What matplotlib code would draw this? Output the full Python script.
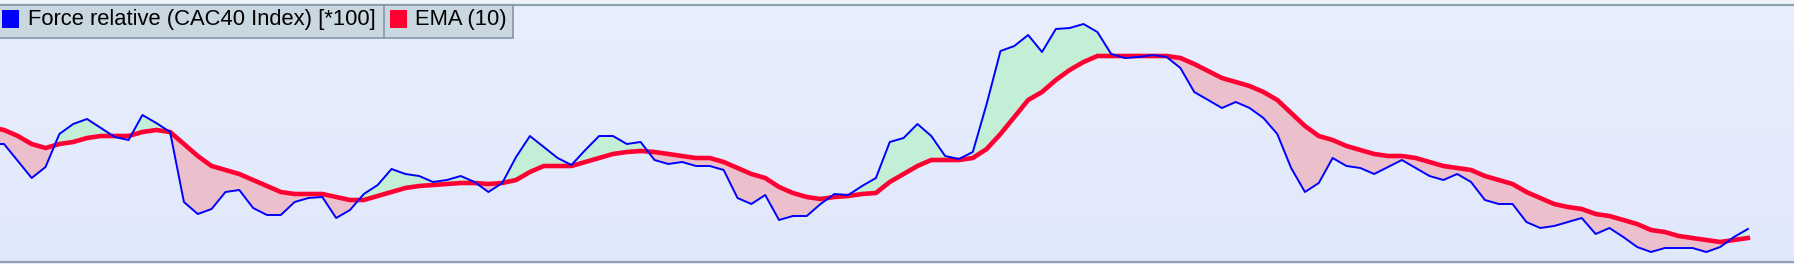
import numpy as np
import matplotlib.pyplot as plt
from matplotlib.patches import Rectangle

# Force relative (CAC40 Index) [*100], une valeur par séance (la première est hors cadre)
force_rel = [118, 118, 101, 84, 95, 128, 138, 143, 134, 125, 122, 147, 139, 130, 60, 48,
             53, 70, 72, 54, 47, 47, 60, 64, 65, 44, 52, 68, 77, 93, 88, 86,
             80, 82, 86, 80, 70, 79, 105, 126, 115, 104, 97, 112, 126, 126, 118, 120,
             102, 98, 100, 96, 96, 92, 64, 58, 67, 42, 46, 46, 58, 68, 67, 76,
             84, 120, 124, 138, 126, 106, 103, 110, 158, 211, 216, 227, 210, 233, 234, 238,
             230, 208, 204, 205, 207, 205, 194, 170, 162, 154, 160, 154, 144, 128, 94, 70,
             79, 104, 96, 94, 88, 95, 102, 94, 86, 82, 88, 80, 62, 58, 58, 40,
             34, 36, 40, 44, 28, 34, 25, 15, 10, 14, 14, 14, 10, 15, 25, 33]

# EMA (10)
ema10 = [135, 132, 126, 118, 114, 118, 120, 124, 126, 126, 126, 130, 132, 130, 118, 106,
         96, 92, 88, 82, 76, 70, 68, 68, 68, 65, 62, 62, 66, 70, 74, 76,
         77, 78, 79, 79, 78, 79, 82, 90, 96, 96, 96, 100, 104, 108, 110, 111,
         110, 108, 106, 104, 104, 100, 94, 88, 84, 75, 69, 65, 63, 65, 66, 68,
         69, 80, 88, 96, 102, 102, 102, 104, 113, 128, 145, 162, 170, 182, 192, 200,
         206, 206, 206, 206, 206, 206, 204, 198, 191, 184, 180, 176, 170, 162, 149, 136,
         126, 122, 116, 112, 108, 106, 106, 104, 100, 96, 94, 92, 86, 82, 78, 70,
         64, 58, 55, 53, 48, 46, 42, 38, 32, 30, 26, 24, 22, 20, 22, 24]

labels = ['Force relative (CAC40 Index) [*100]', 'EMA (10)']
colors = ['#0000ff', '#ff0033']

W, H = 1794, 264
fig = plt.figure(figsize=(W / 100, H / 100), dpi=100, facecolor='#eef2f9')

# zone du graphique : de y=5 à y=262 px
ax = fig.add_axes([0, 2 / H, 1, 257 / H])
x = np.arange(len(force_rel))
fr = np.array(force_rel, dtype=float)
em = np.array(ema10, dtype=float)

step = 13.84  # px par séance
ax.set_xlim(1 - 4 / step, 1 + (W - 4) / step)
ax.set_ylim(0, 257)

# fond dégradé
grad = np.linspace(0, 1, 256).reshape(-1, 1)
bg = np.array([[0.910, 0.933, 0.988], [0.878, 0.910, 0.988]])
img = bg[0] * (1 - grad)[..., None] + bg[1] * grad[..., None]
ax.imshow(img, extent=[0, 1, 0, 1], transform=ax.transAxes, aspect='auto', zorder=0)

ax.fill_between(x, fr, em, where=fr >= em, interpolate=True, color='#c2efd5', lw=0, zorder=1)
ax.fill_between(x, fr, em, where=fr < em, interpolate=True, color='#ebc0cc', lw=0, zorder=1)
ax.plot(x, em, color=colors[1], lw=3.3, solid_joinstyle='round', zorder=2)
ax.plot(x, fr, color=colors[0], lw=1.4, zorder=3)

ax.set_xticks([])
ax.set_yticks([])
for s in ['left', 'right']:
    ax.spines[s].set_visible(False)
for s in ['top', 'bottom']:
    ax.spines[s].set_color('#8ea1b1')
    ax.spines[s].set_linewidth(1.6)

# légende en haut à gauche (coordonnées pixels)
ov = fig.add_axes([0, 0, 1, 1])
ov.set_xlim(0, W)
ov.set_ylim(H, 0)
ov.axis('off')
ov.patch.set_visible(False)

ov.add_patch(Rectangle((-2, 5), 515, 33, facecolor='#c9d7e1', edgecolor='#8a9cac', lw=1.3))
ov.plot([384, 384], [5, 38], color='#8a9cac', lw=1.3)
ov.add_patch(Rectangle((2, 10), 17, 18, facecolor=colors[0], edgecolor='none'))
ov.text(28, 20, labels[0], fontsize=15.8, family='Liberation Sans', va='center', ha='left')
ov.add_patch(Rectangle((390, 10), 17, 18, facecolor=colors[1], edgecolor='none'))
ov.text(415, 20, labels[1], fontsize=15.8, family='Liberation Sans', va='center', ha='left')

fig.savefig('out.png', dpi=100, facecolor=fig.get_facecolor())
